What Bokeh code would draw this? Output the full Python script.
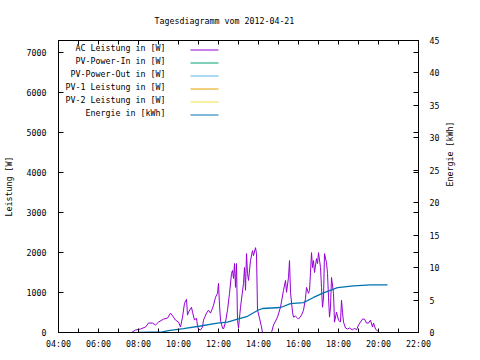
from math import pi
from bokeh.plotting import figure
from bokeh.models import (Range1d, LinearAxis, FixedTicker, Label, Arrow)
from bokeh.embed import file_html
from bokeh.resources import INLINE

title_text = "Tagesdiagramm vom 2012-04-21"
y_label = "Leistung [W]"
y2_label = "Energie [kWh]"

x_ticks = [4, 6, 8, 10, 12, 14, 16, 18, 20, 22]
x_minor = [5, 7, 9, 11, 13, 15, 17, 19, 21]
x_tick_labels = ["04:00", "06:00", "08:00", "10:00", "12:00", "14:00", "16:00", "18:00", "20:00", "22:00"]
y_ticks = [0, 1000, 2000, 3000, 4000, 5000, 6000, 7000]
y2_ticks = [0, 5, 10, 15, 20, 25, 30, 35, 40, 45]
y_max = 7300
y2_max = 45

legend_names = ["AC Leistung in [W]", "PV-Power-In in [W]", "PV-Power-Out in [W]",
                "PV-1 Leistung in [W]", "PV-2 Leistung in [W]", "Energie in [kWh]"]
legend_colors = ["#9400d3", "#009e73", "#56b4e9", "#e69f00", "#f0e442", "#0072b2"]

ac_time = ["07:39", "07:51", "08:06", "08:21", "08:30", "08:42", "08:51", "09:00", "09:15", "09:27",
           "09:36", "09:45", "09:51", "10:00", "10:06", "10:12", "10:18", "10:24", "10:27", "10:30",
           "10:39", "10:42", "10:48", "10:54", "10:57", "11:00", "11:06", "11:12", "11:15", "11:24",
           "11:30", "11:36", "11:42", "11:45", "11:51", "11:57", "12:00", "12:03", "12:06", "12:12",
           "12:15", "12:21", "12:27", "12:33", "12:39", "12:42", "12:45", "12:48", "12:51", "12:54",
           "12:57", "13:00", "13:06", "13:15", "13:18", "13:21", "13:24", "13:27", "13:30", "13:36",
           "13:42", "13:45", "13:51", "13:54", "13:57", "14:03", "14:09", "14:12", "14:39", "14:45",
           "14:57", "15:06", "15:15", "15:21", "15:24", "15:30", "15:33", "15:36", "15:42", "15:45",
           "15:51", "15:57", "16:00", "16:09", "16:15", "16:21", "16:24", "16:30", "16:33", "16:36",
           "16:39", "16:42", "16:45", "16:48", "16:54", "16:57", "17:00", "17:06", "17:09", "17:12",
           "17:15", "17:18", "17:24", "17:27", "17:30", "17:33", "17:36", "17:39", "17:45", "17:48",
           "17:54", "18:00", "18:06", "18:09", "18:12", "18:15", "18:21", "18:27", "18:33", "18:42",
           "18:48", "18:54", "19:00", "19:06", "19:12", "19:18", "19:24", "19:30", "19:36", "19:42",
           "19:45", "19:51", "19:57", "20:03"]
ac_watt = [0, 62, 87, 136, 236, 236, 186, 260, 335, 360,
           484, 384, 310, 260, 136, 384, 732, 831, 434, 508,
           632, 508, 310, 360, 161, 87, 62, 136, 310, 484,
           558, 484, 608, 682, 880, 980, 1228, 682, 310, 112,
           87, 260, 558, 980, 1476, 1550, 1352, 1724, 1128, 1724,
           310, 112, 632, 1228, 1624, 1054, 1972, 1476, 1302, 1798,
           2046, 1922, 2120, 1972, 558, 360, 136, 0, 0, 186,
           384, 632, 1054, 1302, 1004, 1376, 1798, 1004, 508, 384,
           409, 360, 335, 434, 558, 856, 1128, 980, 1054, 1500,
           1996, 1624, 1798, 1500, 1848, 1724, 1996, 1624, 1128, 632,
           856, 1972, 1748, 1476, 880, 384, 632, 1376, 980, 260,
           508, 310, 260, 806, 508, 260, 112, 87, 112, 62,
           112, 62, 186, 260, 335, 335, 236, 236, 310, 136,
           236, 87, 37, 0]

energy_time = ["08:00", "09:12", "09:30", "10:15", "11:06", "11:57", "12:27", "12:57", "13:27", "13:57",
               "14:12", "15:06", "15:36", "16:15", "16:45", "17:15", "17:57", "18:45", "19:36", "20:27"]
energy_kwh = [0.0, 0.1, 0.3, 0.6, 1.0, 1.45, 1.6, 2.07, 2.5, 3.4,
              3.7, 3.85, 4.45, 4.6, 5.4, 6.1, 6.9, 7.2, 7.35, 7.35]


def to_hours(t):
    h, m = t.split(":")
    return int(h) + int(m) / 60.0


FONT = "DejaVu Sans Mono"
FS = "8.3px"

p = figure(width=480, height=360, output_backend="svg", toolbar_location=None,
           x_range=Range1d(4, 22), y_range=Range1d(0, y_max),
           min_border_left=58, min_border_right=62, min_border_top=40, min_border_bottom=28,
           x_axis_location=None, y_axis_location=None, title=title_text)
p.background_fill_color = "white"
p.border_fill_color = "white"
p.outline_line_color = "black"
p.outline_line_width = 1
p.xgrid.visible = False
p.ygrid.visible = False
p.extra_y_ranges = {"energy": Range1d(0, y2_max)}

p.title.text_font = FONT
p.title.text_font_size = FS
p.title.text_font_style = "normal"
p.title.text_color = "black"
p.title.align = "left"
p.title.offset = 96
p.title.standoff = 26
p.title.vertical_align = "top"


def style_axis(ax, tick_len):
    ax.axis_line_color = "black"
    ax.major_tick_in = tick_len
    ax.major_tick_out = 0
    ax.minor_tick_in = tick_len
    ax.minor_tick_out = 0
    ax.major_tick_line_color = "black"
    ax.minor_tick_line_color = "black"
    ax.major_label_text_font = FONT
    ax.major_label_text_font_size = FS
    ax.major_label_text_color = "black"
    ax.axis_label_text_font = FONT
    ax.axis_label_text_font_size = FS
    ax.axis_label_text_font_style = "normal"
    ax.axis_label_text_color = "black"


xlab = {t: l for t, l in zip(x_ticks, x_tick_labels)}

bottom = LinearAxis(ticker=FixedTicker(ticks=x_ticks, minor_ticks=x_minor),
                    major_label_overrides=xlab)
style_axis(bottom, 4)
bottom.major_label_standoff = 6
p.add_layout(bottom, "below")

top = LinearAxis(ticker=FixedTicker(ticks=x_ticks, minor_ticks=x_minor))
style_axis(top, 4)
top.major_label_text_color = None
top.major_label_text_font_size = "0px"
top.major_label_standoff = 0
p.add_layout(top, "above")

left = LinearAxis(ticker=FixedTicker(ticks=y_ticks),
                  major_label_overrides={t: str(t) for t in y_ticks},
                  axis_label=y_label)
style_axis(left, 5)
left.major_label_standoff = 12
left.axis_label_standoff = 10
p.add_layout(left, "left")

y1_on_y2 = [t * y2_max / y_max for t in y_ticks]
right = LinearAxis(y_range_name="energy",
                   ticker=FixedTicker(ticks=y2_ticks, minor_ticks=y1_on_y2),
                   major_label_overrides={t: str(t) for t in y2_ticks},
                   axis_label=y2_label)
style_axis(right, 5)
right.major_label_standoff = 11
right.axis_label_standoff = 8
right.axis_label_orientation = pi / 2
p.add_layout(right, "right")

p.line([to_hours(t) for t in ac_time], ac_watt, line_color=legend_colors[0], line_width=1)
p.line([to_hours(t) for t in energy_time], energy_kwh, line_color=legend_colors[5],
       line_width=1.3, y_range_name="energy")

# gnuplot-style key: text right-aligned, sample line to the right (frame screen units)
for i, (name, col) in enumerate(zip(legend_names, legend_colors)):
    yy = 282.5 - 13 * i
    p.add_layout(Label(x=107, y=yy + 2, x_units="screen", y_units="screen", text=name,
                       text_font=FONT, text_font_size=FS, text_align="right",
                       text_baseline="middle", text_color="black"))
    p.add_layout(Arrow(x_start=132, y_start=yy, x_end=160, y_end=yy,
                       start_units="screen", end_units="screen", end=None,
                       line_color=col, line_width=1))

open("out.html", "w").write(file_html(p, INLINE))
